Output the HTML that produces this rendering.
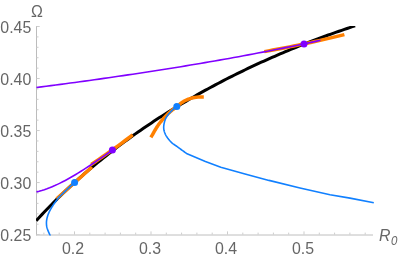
<!DOCTYPE html>
<html><head><meta charset="utf-8"><style>
html,body{margin:0;padding:0;background:#fff;}
body{width:402px;height:260px;position:relative;overflow:hidden;font-family:"Liberation Sans",sans-serif;}
.t{position:absolute;font-size:15.9px;line-height:18px;color:#666;white-space:nowrap;transform:scaleY(1.075);transform-origin:50% 50%;will-change:transform;}
</style></head><body>
<svg width="402" height="260" viewBox="0 0 402 260" style="position:absolute;left:0;top:0">
<g stroke="#c4c4c4" stroke-width="1" fill="none" shape-rendering="auto">
<path d="M36.5,26 V235.3" stroke="#bcbcbc"/>
<path d="M36,235.0 H373" stroke="#bebebe"/>
<path d="M36.5,234.60 h3.2" stroke="#cdcdcd"/>
<path d="M36.5,224.19 h2.0" stroke="#cdcdcd"/>
<path d="M36.5,213.79 h2.0" stroke="#cdcdcd"/>
<path d="M36.5,203.38 h2.0" stroke="#cdcdcd"/>
<path d="M36.5,192.98 h2.0" stroke="#cdcdcd"/>
<path d="M36.5,182.57 h3.2" stroke="#cdcdcd"/>
<path d="M36.5,172.17 h2.0" stroke="#cdcdcd"/>
<path d="M36.5,161.76 h2.0" stroke="#cdcdcd"/>
<path d="M36.5,151.36 h2.0" stroke="#cdcdcd"/>
<path d="M36.5,140.96 h2.0" stroke="#cdcdcd"/>
<path d="M36.5,130.55 h3.2" stroke="#cdcdcd"/>
<path d="M36.5,120.15 h2.0" stroke="#cdcdcd"/>
<path d="M36.5,109.74 h2.0" stroke="#cdcdcd"/>
<path d="M36.5,99.33 h2.0" stroke="#cdcdcd"/>
<path d="M36.5,88.93 h2.0" stroke="#cdcdcd"/>
<path d="M36.5,78.52 h3.2" stroke="#cdcdcd"/>
<path d="M36.5,68.12 h2.0" stroke="#cdcdcd"/>
<path d="M36.5,57.71 h2.0" stroke="#cdcdcd"/>
<path d="M36.5,47.31 h2.0" stroke="#cdcdcd"/>
<path d="M36.5,36.91 h2.0" stroke="#cdcdcd"/>
<path d="M36.5,26.50 h3.2" stroke="#cdcdcd"/>
<path d="M43.90,234.6 v-2.0" stroke="#cdcdcd"/>
<path d="M59.20,234.6 v-2.0" stroke="#cdcdcd"/>
<path d="M74.50,234.6 v-3.2" stroke="#cdcdcd"/>
<path d="M89.80,234.6 v-2.0" stroke="#cdcdcd"/>
<path d="M105.10,234.6 v-2.0" stroke="#cdcdcd"/>
<path d="M120.40,234.6 v-2.0" stroke="#cdcdcd"/>
<path d="M135.70,234.6 v-2.0" stroke="#cdcdcd"/>
<path d="M151.00,234.6 v-3.2" stroke="#cdcdcd"/>
<path d="M166.30,234.6 v-2.0" stroke="#cdcdcd"/>
<path d="M181.60,234.6 v-2.0" stroke="#cdcdcd"/>
<path d="M196.90,234.6 v-2.0" stroke="#cdcdcd"/>
<path d="M212.20,234.6 v-2.0" stroke="#cdcdcd"/>
<path d="M227.50,234.6 v-3.2" stroke="#cdcdcd"/>
<path d="M242.80,234.6 v-2.0" stroke="#cdcdcd"/>
<path d="M258.10,234.6 v-2.0" stroke="#cdcdcd"/>
<path d="M273.40,234.6 v-2.0" stroke="#cdcdcd"/>
<path d="M288.70,234.6 v-2.0" stroke="#cdcdcd"/>
<path d="M304.00,234.6 v-3.2" stroke="#cdcdcd"/>
<path d="M319.30,234.6 v-2.0" stroke="#cdcdcd"/>
<path d="M334.60,234.6 v-2.0" stroke="#cdcdcd"/>
<path d="M349.90,234.6 v-2.0" stroke="#cdcdcd"/>
<path d="M365.20,234.6 v-2.0" stroke="#cdcdcd"/>
</g>
<defs><clipPath id="cp"><rect x="36" y="26" width="338.5" height="209.6"/></clipPath></defs>
<g fill="none" stroke-linejoin="round" clip-path="url(#cp)">
<path d="M36.25,220.67 L38.93,217.75 L41.61,214.87 L44.29,212.04 L46.97,209.24 L49.65,206.48 L52.33,203.76 L55.01,201.08 L57.69,198.43 L60.36,195.82 L63.04,193.24 L65.72,190.70 L68.40,188.18 L71.08,185.70 L73.76,183.25 L76.44,180.82 L79.12,178.43 L81.80,176.06 L84.48,173.73 L87.16,171.41 L89.84,169.13 L92.52,166.87 L95.20,164.64 L97.88,162.43 L100.56,160.25 L103.24,158.09 L105.92,155.96 L108.59,153.84 L111.27,151.75 L113.95,149.69 L116.63,147.64 L119.31,145.62 L121.99,143.61 L124.67,141.63 L127.35,139.67 L130.03,137.73 L132.71,135.81 L135.39,133.90 L138.07,132.02 L140.75,130.16 L143.43,128.31 L146.11,126.48 L148.79,124.67 L151.47,122.88 L154.14,121.11 L156.82,119.35 L159.50,117.61 L162.18,115.89 L164.86,114.18 L167.54,112.49 L170.22,110.82 L172.90,109.16 L175.58,107.51 L178.26,105.89 L180.94,104.27 L183.62,102.68 L186.30,101.10 L188.98,99.53 L191.66,97.98 L194.34,96.44 L197.02,94.91 L199.70,93.40 L202.37,91.91 L205.05,90.42 L207.73,88.95 L210.41,87.50 L213.09,86.06 L215.77,84.63 L218.45,83.21 L221.13,81.81 L223.81,80.42 L226.49,79.04 L229.17,77.68 L231.85,76.32 L234.53,74.98 L237.21,73.65 L239.89,72.34 L242.57,71.03 L245.25,69.74 L247.92,68.46 L250.60,67.19 L253.28,65.93 L255.96,64.69 L258.64,63.45 L261.32,62.23 L264.00,61.02 L266.68,59.81 L269.36,58.62 L272.04,57.44 L274.72,56.27 L277.40,55.12 L280.08,53.97 L282.76,52.83 L285.44,51.70 L288.12,50.59 L290.80,49.48 L293.48,48.38 L296.15,47.30 L298.83,46.22 L301.51,45.16 L304.19,44.10 L306.87,43.05 L309.55,42.02 L312.23,40.99 L314.91,39.97 L317.59,38.96 L320.27,37.97 L322.95,36.98 L325.63,36.00 L328.31,35.03 L330.99,34.07 L333.67,33.11 L336.35,32.17 L339.03,31.24 L341.70,30.31 L344.38,29.40 L347.06,28.49 L349.74,27.59 L352.42,26.70 L355.10,25.82" stroke="#000" stroke-width="3.0"/>
<path d="M56.70,198.70 L92.00,167.00" stroke="#ff8000" stroke-width="3.5"/>
<path d="M91.20,164.50 L94.97,161.95 L98.75,159.37 L102.52,156.76 L106.29,154.13 L110.06,151.46 L113.84,148.77 L117.61,146.05 L121.38,143.31 L125.15,140.53 L128.93,137.73 L132.70,134.90" stroke="#ff8000" stroke-width="3.5"/>
<path d="M150.90,137.40 L151.45,136.46 L152.00,135.50 L152.54,134.54 L153.09,133.57 L153.63,132.61 L154.18,131.64 L154.73,130.69 L155.28,129.75 L155.83,128.82 L156.38,127.92 L156.94,127.05 L157.50,126.20 L158.06,125.38 L158.63,124.58 L159.20,123.80 L159.78,123.04 L160.35,122.30 L160.93,121.57 L161.51,120.86 L162.09,120.16 L162.67,119.48 L163.25,118.81 L163.82,118.15 L164.40,117.50 L164.98,116.86 L165.57,116.24 L166.16,115.62 L166.75,115.02 L167.34,114.43 L167.93,113.86 L168.52,113.31 L169.10,112.77 L169.67,112.25 L170.23,111.74 L170.77,111.26 L171.30,110.80 L171.82,110.37 L172.32,109.96 L172.81,109.59 L173.30,109.23 L173.78,108.90 L174.24,108.57 L174.70,108.26 L175.16,107.96 L175.60,107.65 L176.04,107.34 L176.47,107.03 L176.90,106.70 L177.31,106.37 L177.71,106.03 L178.09,105.69 L178.46,105.36 L178.83,105.03 L179.19,104.69 L179.55,104.37 L179.91,104.04 L180.29,103.72 L180.68,103.41 L181.08,103.10 L181.50,102.80 L181.94,102.50 L182.40,102.21 L182.87,101.92 L183.34,101.63 L183.83,101.35 L184.32,101.07 L184.82,100.80 L185.32,100.54 L185.82,100.29 L186.32,100.04 L186.81,99.82 L187.30,99.60 L187.78,99.40 L188.27,99.21 L188.75,99.03 L189.24,98.86 L189.72,98.70 L190.21,98.55 L190.69,98.41 L191.17,98.27 L191.66,98.15 L192.14,98.03 L192.62,97.91 L193.10,97.80 L193.58,97.70 L194.06,97.60 L194.55,97.51 L195.03,97.43 L195.52,97.36 L196.00,97.29 L196.48,97.23 L196.96,97.17 L197.43,97.12 L197.89,97.08 L198.35,97.04 L198.80,97.00 L199.24,96.97 L199.67,96.95 L200.10,96.94 L200.52,96.94 L200.93,96.94 L201.34,96.95 L201.75,96.96 L202.16,96.97 L202.57,96.98 L202.97,96.99 L203.39,97.00 L203.80,97.00" stroke="#ff8000" stroke-width="3.5"/>
<path d="M264.30,51.60 L268.52,50.85 L272.73,50.08 L276.95,49.30 L281.16,48.50 L285.38,47.69 L289.59,46.86 L293.81,46.01 L298.03,45.15 L302.24,44.27 L306.46,43.38 L310.67,42.47 L314.89,41.54 L319.11,40.60 L323.32,39.64 L327.54,38.66 L331.75,37.67 L335.97,36.66 L340.18,35.64 L344.40,34.60" stroke="#ff8000" stroke-width="3.5"/>
<path d="M50.40,236.00 L50.19,235.53 L49.97,235.06 L49.75,234.58 L49.52,234.10 L49.30,233.63 L49.08,233.15 L48.86,232.68 L48.64,232.21 L48.44,231.74 L48.25,231.29 L48.07,230.84 L47.90,230.40 L47.75,229.98 L47.60,229.57 L47.46,229.17 L47.33,228.78 L47.20,228.39 L47.09,228.01 L46.98,227.63 L46.89,227.24 L46.80,226.85 L46.72,226.45 L46.66,226.03 L46.60,225.60 L46.55,225.15 L46.51,224.70 L46.48,224.24 L46.46,223.77 L46.45,223.30 L46.44,222.82 L46.45,222.33 L46.47,221.84 L46.51,221.34 L46.56,220.83 L46.62,220.32 L46.70,219.80 L46.79,219.27 L46.90,218.74 L47.03,218.19 L47.16,217.64 L47.31,217.08 L47.48,216.51 L47.65,215.94 L47.84,215.37 L48.04,214.80 L48.25,214.23 L48.47,213.66 L48.70,213.10 L48.95,212.54 L49.21,211.97 L49.48,211.40 L49.77,210.84 L50.07,210.27 L50.38,209.70 L50.70,209.13 L51.03,208.56 L51.36,208.00 L51.71,207.43 L52.05,206.86 L52.40,206.30 L52.76,205.74 L53.13,205.18 L53.50,204.62 L53.89,204.06 L54.29,203.50 L54.69,202.94 L55.09,202.39 L55.50,201.83 L55.90,201.27 L56.31,200.72 L56.71,200.16 L57.10,199.60 L58.00,198.13 L59.50,196.66 L61.00,195.21 L62.50,193.76 L64.00,192.33 L65.50,190.91 L67.00,189.49 L68.50,188.09 L70.00,186.70 L71.50,185.31 L73.00,183.94 L74.50,182.57" stroke="#1180ff" stroke-width="1.6"/>
<path d="M176.80,106.60 L176.42,106.89 L176.05,107.16 L175.68,107.42 L175.31,107.67 L174.94,107.93 L174.58,108.19 L174.20,108.46 L173.82,108.75 L173.43,109.06 L173.04,109.40 L172.63,109.78 L172.20,110.20 L171.75,110.66 L171.26,111.17 L170.75,111.71 L170.23,112.28 L169.70,112.88 L169.16,113.49 L168.64,114.11 L168.13,114.74 L167.64,115.37 L167.18,115.99 L166.77,116.61 L166.40,117.20 L166.07,117.79 L165.78,118.38 L165.50,118.97 L165.26,119.57 L165.04,120.16 L164.84,120.76 L164.66,121.35 L164.50,121.93 L164.35,122.51 L164.22,123.09 L164.11,123.65 L164.00,124.20 L163.91,124.74 L163.83,125.27 L163.77,125.79 L163.73,126.30 L163.70,126.81 L163.69,127.31 L163.70,127.81 L163.73,128.31 L163.77,128.80 L163.83,129.30 L163.90,129.80 L164.00,130.30 L164.11,130.80 L164.25,131.31 L164.40,131.81 L164.57,132.31 L164.75,132.81 L164.96,133.31 L165.18,133.81 L165.41,134.31 L165.66,134.81 L165.93,135.31 L166.21,135.80 L166.50,136.30 L166.81,136.80 L167.14,137.30 L167.48,137.81 L167.84,138.32 L168.22,138.83 L168.61,139.33 L169.02,139.83 L169.43,140.33 L169.86,140.81 L170.30,141.29 L170.75,141.75 L171.20,142.20 L171.66,142.63 L172.13,143.03 L172.60,143.42 L173.08,143.79 L173.57,144.15 L174.08,144.51 L174.60,144.87 L175.14,145.24 L175.70,145.63 L176.28,146.03 L176.88,146.45 L177.50,146.90 L178.16,147.38 L178.84,147.88 L179.56,148.40 L180.30,148.93 L181.06,149.48 L181.83,150.04 L182.61,150.60 L183.40,151.17 L184.19,151.73 L184.97,152.30 L185.74,152.85 L186.50,153.40 L205.40,161.40 L220.80,167.20 L245.00,173.90 L269.00,180.40 L300.00,188.00 L330.00,194.70 L350.00,198.10 L373.80,202.70" stroke="#1180ff" stroke-width="1.6"/>
<path d="M36.50,87.52 L41.31,86.90 L46.13,86.27 L50.94,85.64 L55.75,85.00 L60.57,84.37 L65.38,83.72 L70.19,83.07 L75.01,82.42 L79.82,81.76 L84.64,81.10 L89.45,80.44 L94.26,79.76 L99.08,79.09 L103.89,78.40 L108.70,77.72 L113.52,77.02 L118.33,76.32 L123.14,75.62 L127.96,74.91 L132.77,74.19 L137.58,73.47 L142.40,72.74 L147.21,72.00 L152.03,71.26 L156.84,70.51 L161.65,69.76 L166.47,69.00 L171.28,68.23 L176.09,67.45 L180.91,66.67 L185.72,65.88 L190.53,65.08 L195.35,64.28 L200.16,63.46 L204.97,62.64 L209.79,61.81 L214.60,60.98 L219.42,60.13 L224.23,59.28 L229.04,58.42 L233.86,57.55 L238.67,56.67 L243.48,55.79 L248.30,54.89 L253.11,53.99 L257.92,53.07 L262.74,52.15 L267.55,51.22 L272.36,50.28 L277.18,49.33 L281.99,48.37 L286.81,47.40 L291.62,46.42 L296.43,45.43 L301.25,44.43 L306.06,43.42 L310.87,42.40 L315.69,41.37 L320.50,40.33" stroke="#8000ff" stroke-width="1.6"/>
<path d="M36.50,191.90 L39.12,191.24 L41.73,190.49 L44.35,189.66 L46.97,188.75 L49.59,187.76 L52.20,186.70 L54.82,185.58 L57.44,184.39 L60.06,183.13 L62.67,181.82 L65.29,180.46 L67.91,179.04 L70.52,177.57 L73.14,176.06 L75.76,174.50 L78.38,172.91 L80.99,171.28 L83.61,169.62 L86.23,167.93 L88.84,166.21 L91.46,164.48 L94.08,162.72 L96.70,160.95 L99.31,159.17 L101.93,157.38 L104.55,155.58 L107.17,153.78 L109.78,151.99 L112.40,150.20" stroke="#8000ff" stroke-width="1.6"/>
</g>
<circle cx="74.6" cy="182.5" r="3.5" fill="#1180ff"/>
<circle cx="176.8" cy="106.6" r="3.5" fill="#1180ff"/>
<circle cx="112.4" cy="150.1" r="3.5" fill="#8000ff"/>
<circle cx="304" cy="43.9" r="3.5" fill="#8000ff"/>
</svg>
<div class="t" style="left:-20px;width:51.3px;text-align:right;top:18.9px">0.45</div>
<div class="t" style="left:-20px;width:51.3px;text-align:right;top:70.9px">0.40</div>
<div class="t" style="left:-20px;width:51.3px;text-align:right;top:123.0px">0.35</div>
<div class="t" style="left:-20px;width:51.3px;text-align:right;top:175.0px">0.30</div>
<div class="t" style="left:-20px;width:51.3px;text-align:right;top:227.0px">0.25</div>
<div class="t" style="left:48.3px;width:50px;text-align:center;top:240.4px">0.2</div>
<div class="t" style="left:124.8px;width:50px;text-align:center;top:240.4px">0.3</div>
<div class="t" style="left:201.3px;width:50px;text-align:center;top:240.4px">0.4</div>
<div class="t" style="left:277.8px;width:50px;text-align:center;top:240.4px">0.5</div>
<div class="t" style="left:30.6px;top:2.6px">Ω</div>
<div class="t" style="left:379px;top:226.5px;font-style:italic">R<span style="font-size:11.5px;position:relative;top:3.0px;left:0.4px">0</span></div>
</body></html>
